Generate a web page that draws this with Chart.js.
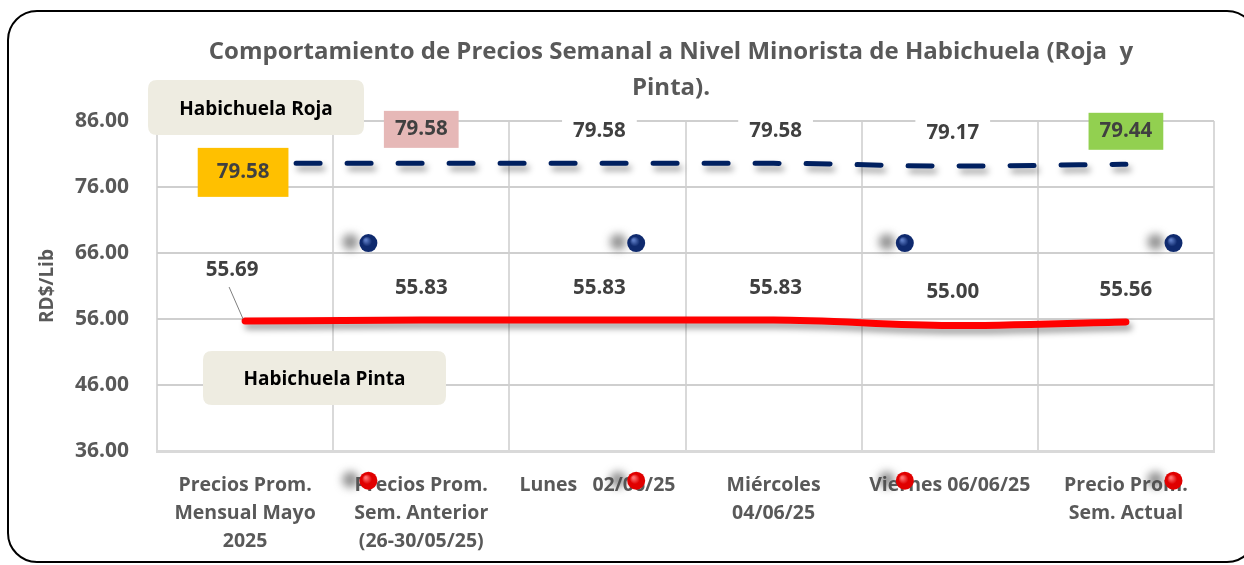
<!DOCTYPE html>
<html>
<head>
<meta charset="utf-8">
<script src="https://cdn.jsdelivr.net/npm/chart.js@4.4.1/dist/chart.umd.min.js"></script>
<style>
  html, body { margin: 0; padding: 0; background: #ffffff; }
  #wrap { position: relative; width: 1244px; height: 565px; overflow: hidden; }
  #frame { position: absolute; left: 7px; top: 10px; width: 1250px; height: 553px;
           border: 2px solid #000; border-radius: 30px; box-sizing: border-box; pointer-events: none; }
  canvas { position: absolute; left: 0; top: 0; }
</style>
</head>
<body>
<div id="wrap">
  <canvas id="c" width="1244" height="565"></canvas>
  <div id="frame"></div>
</div>
<script>
// ---- data ----
const categories = [
  ["Precios Prom.", "Mensual Mayo", "2025"],
  ["Precios Prom.", "Sem. Anterior", "(26-30/05/25)"],
  "Lunes   02/06/25",
  ["Miércoles", "04/06/25"],
  "Viernes 06/06/25",
  ["Precio Prom.", "Sem. Actual"]
];
const rojaValues  = [79.58, 79.58, 79.58, 79.58, 79.17, 79.44];
const pintaValues = [55.69, 55.83, 55.83, 55.83, 55.00, 55.56];
const yMin = 36, yMax = 86, yStep = 10;
const titleLines = ["Comportamiento de Precios Semanal a Nivel Minorista de Habichuela (Roja  y", "Pinta)."];
const yAxisTitle = "RD$/Lib";
const seriesNames = ["Habichuela Roja", "Habichuela Pinta"];
// decorative marker positions (axis units)
const decorX = [1.2, 2.72, 4.245, 5.77];
const decorNavyY = 67.5;
const decorRedY = 31.5;

// ---- label styles (not data) ----
const rojaLabelStyle = [
  { bg: '#FFC000', dx: -2, dy: 9, padX: 19, padY: 17 },
  { bg: '#E6B8B7', dx: 0, dy: -34, padX: 11, padY: 11 },
  { bg: '#FFFFFF', dx: 2, dy: -32, padX: 11, padY: 8 },
  { bg: '#FFFFFF', dx: 2, dy: -32, padX: 11, padY: 8 },
  { bg: '#FFFFFF', dx: 3, dy: -33, padX: 11, padY: 8 },
  { bg: '#92D050', dx: 0, dy: -33, padX: 11, padY: 11 }
];
const pintaLabelStyle = [
  { dx: -13, dy: -51, leader: true },
  { dx: 0, dy: -32 }, { dx: 2, dy: -32 }, { dx: 2, dy: -32 }, { dx: 3, dy: -33 }, { dx: 0, dy: -32 }
];

const FONT = "'Open Sans', Lato, sans-serif";
const GREY = '#595959';

const shadowPlugin = {
  id: 'shadows',
  beforeDatasetDraw(chart, args) {
    const ctx = chart.ctx;
    ctx.save();
    ctx.shadowColor = 'rgba(0,0,0,0.38)';
    ctx.shadowBlur = 6;
    ctx.shadowOffsetX = 3;
    ctx.shadowOffsetY = 5;
  },
  afterDatasetDraw(chart) { chart.ctx.restore(); }
};

function roundRect(ctx, x, y, w, h, r) {
  ctx.beginPath();
  ctx.moveTo(x + r, y);
  ctx.lineTo(x + w - r, y); ctx.quadraticCurveTo(x + w, y, x + w, y + r);
  ctx.lineTo(x + w, y + h - r); ctx.quadraticCurveTo(x + w, y + h, x + w - r, y + h);
  ctx.lineTo(x + r, y + h); ctx.quadraticCurveTo(x, y + h, x, y + h - r);
  ctx.lineTo(x, y + r); ctx.quadraticCurveTo(x, y, x + r, y);
  ctx.closePath();
}

function ball(ctx, x, y, r, dark, light) {
  ctx.save();
  ctx.fillStyle = 'rgba(70,70,70,0.6)';
  ctx.filter = 'blur(4px)';
  ctx.beginPath(); ctx.arc(x - 18, y - 1, r * 0.9, 0, Math.PI * 2); ctx.fill();
  ctx.filter = 'none';
  const g = ctx.createRadialGradient(x - r * 0.3, y - r * 0.35, r * 0.1, x, y, r);
  g.addColorStop(0, light); g.addColorStop(0.5, dark); g.addColorStop(1, dark);
  ctx.fillStyle = g;
  ctx.beginPath(); ctx.arc(x, y, r, 0, Math.PI * 2); ctx.fill();
  ctx.restore();
}

const decorPlugin = {
  id: 'decor',
  beforeDatasetsDraw(chart) {
    const ctx = chart.ctx;
    const xs = chart.scales.xd, ys = chart.scales.y;
    decorX.forEach(v => {
      ball(ctx, xs.getPixelForValue(v), ys.getPixelForValue(decorNavyY), 9, '#0F2A6E', '#5C7BC4');
    });
  },
  afterDraw(chart) {
    const ctx = chart.ctx;
    const xs = chart.scales.xd, ys = chart.scales.y;
    decorX.forEach(v => {
      ball(ctx, xs.getPixelForValue(v), ys.getPixelForValue(decorRedY), 9, '#E00000', '#FF7070');
    });
  }
};

const textPlugin = {
  id: 'texts',
  afterDatasetsDraw(chart) {
    const ctx = chart.ctx;
    ctx.save();
    // title
    ctx.fillStyle = GREY;
    ctx.font = "bold 24px " + FONT;
    ctx.textAlign = 'center'; ctx.textBaseline = 'middle';
    ctx.fillText(titleLines[0], 671, 52);
    ctx.fillText(titleLines[1], 671, 88);

    // series name boxes
    const boxes = [
      { text: seriesNames[0], x: 148, y: 80, w: 216, h: 55 },
      { text: seriesNames[1], x: 203, y: 351, w: 243, h: 54 }
    ];
    boxes.forEach(b => {
      ctx.fillStyle = '#EEECE1';
      roundRect(ctx, b.x, b.y, b.w, b.h, 9); ctx.fill();
      ctx.fillStyle = '#000000';
      ctx.font = "bold 19px " + FONT;
      ctx.fillText(b.text, b.x + b.w / 2, b.y + b.h / 2 + 2);
    });

    // data labels
    ctx.font = "bold 20.5px " + FONT;
    const mr = chart.getDatasetMeta(0);
    mr.data.forEach((pt, i) => {
      const s = rojaLabelStyle[i];
      const txt = rojaValues[i].toFixed(2);
      const tw = ctx.measureText(txt).width;
      const cx = pt.x + s.dx, cy = pt.y + s.dy;
      const w = tw + 2 * s.padX, h = 15 + 2 * s.padY;
      ctx.fillStyle = s.bg;
      ctx.fillRect(cx - w / 2, cy - h / 2, w, h);
      ctx.fillStyle = '#404040';
      ctx.fillText(txt, cx, cy);
    });
    const mp = chart.getDatasetMeta(1);
    mp.data.forEach((pt, i) => {
      const s = pintaLabelStyle[i];
      const txt = pintaValues[i].toFixed(2);
      const cx = pt.x + s.dx, cy = pt.y + s.dy;
      if (s.leader) {
        ctx.strokeStyle = '#7F7F7F'; ctx.lineWidth = 1;
        ctx.beginPath(); ctx.moveTo(cx - 3, cy + 17); ctx.lineTo(pt.x - 2, pt.y - 2); ctx.stroke();
      }
      ctx.fillStyle = '#404040';
      ctx.fillText(txt, cx, cy);
    });
    ctx.restore();
  }
};

new Chart(document.getElementById('c'), {
  type: 'line',
  data: {
    labels: categories,
    datasets: [
      {
        label: seriesNames[0],
        data: rojaValues,
        borderColor: '#002060',
        borderWidth: 5,
        borderDash: [24, 27],
        borderCapStyle: 'round',
        pointRadius: 0,
        tension: 0.3,
        cubicInterpolationMode: 'monotone',
        fill: false
      },
      {
        label: seriesNames[1],
        data: pintaValues,
        borderColor: '#FF0000',
        borderWidth: 7,
        borderCapStyle: 'round',
        pointRadius: 0,
        tension: 0.3,
        cubicInterpolationMode: 'monotone',
        fill: false
      }
    ]
  },
  options: {
    responsive: false,
    animation: false,
    layout: { padding: { left: 0, right: 30, top: 121, bottom: 0 } },
    plugins: { legend: { display: false }, tooltip: { enabled: false }, title: { display: false } },
    scales: {
      x: {
        offset: true,
        grid: { offset: true, color: '#D9D9D9', lineWidth: 2, drawTicks: false },
        border: { color: '#D9D9D9', width: 3 },
        ticks: {
          color: GREY, padding: 20, maxRotation: 0, autoSkip: false,
          font: { family: FONT, size: 19.5, weight: 'bold', lineHeight: 1.44 }
        },
        afterFit(s) { s.height = 114; }
      },
      xd: {
        type: 'linear', display: false, min: 0, max: 6
      },
      y: {
        min: yMin, max: yMax,
        ticks: {
          stepSize: yStep, color: GREY, padding: 28,
          font: { family: FONT, size: 21, weight: 'bold' },
          callback: v => Number(v).toFixed(2)
        },
        grid: { color: '#CFCFCF', lineWidth: 2, drawTicks: false },
        border: { display: false },
        title: {
          display: true, text: yAxisTitle, color: GREY,
          font: { family: FONT, size: 19, weight: 'bold' },
          padding: { top: 36, bottom: 0 }
        },
        afterFit(s) { s.width = 157; }
      }
    }
  },
  plugins: [decorPlugin, shadowPlugin, textPlugin]
});
</script>
</body>
</html>
